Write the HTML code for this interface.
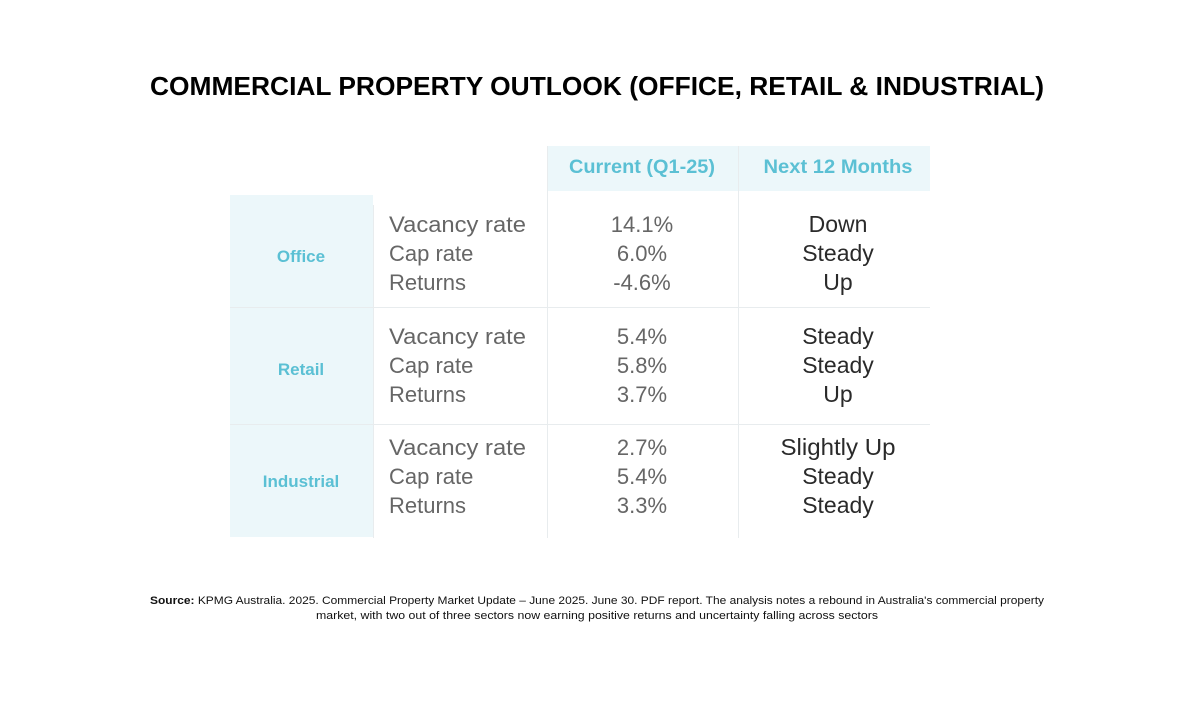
<!DOCTYPE html>
<html><head><meta charset="utf-8"><style>html,body{margin:0;padding:0;background:#fff}svg{display:block}</style></head>
<body>
<svg width="1200" height="714" viewBox="0 0 1200 714" xmlns="http://www.w3.org/2000/svg" font-family="Liberation Sans, sans-serif">
<rect width="1200" height="714" fill="#fff"/>
<text x="597" y="95" text-anchor="middle" font-size="26" font-weight="bold" fill="#000" textLength="894" lengthAdjust="spacingAndGlyphs">COMMERCIAL PROPERTY OUTLOOK (OFFICE, RETAIL &amp; INDUSTRIAL)</text>
<rect x="547" y="146" width="383" height="45" fill="#ecf7fa"/>
<rect x="230" y="195" width="143" height="342" fill="#ecf7fa"/>
<g stroke="#e8ecee" stroke-width="1">
<line x1="547.5" y1="146" x2="547.5" y2="538"/>
<line x1="738.5" y1="146" x2="738.5" y2="538"/>
<line x1="373.5" y1="205" x2="373.5" y2="538"/>
<line x1="230" y1="307.5" x2="930" y2="307.5"/>
<line x1="230" y1="424.5" x2="930" y2="424.5"/>
</g>
<g font-weight="bold" font-size="19" fill="#5bc0d4" text-anchor="middle">
<text x="642" y="173" textLength="146" lengthAdjust="spacingAndGlyphs">Current (Q1-25)</text>
<text x="838" y="173" textLength="149" lengthAdjust="spacingAndGlyphs">Next 12 Months</text>
<text x="301" y="262" font-size="17">Office</text>
<text x="301" y="375" font-size="17">Retail</text>
<text x="301" y="487" font-size="17">Industrial</text>
</g>
<g font-size="22" fill="#666">
<text x="389" y="232" textLength="137" lengthAdjust="spacingAndGlyphs">Vacancy rate</text>
<text x="389" y="261">Cap rate</text>
<text x="389" y="290">Returns</text>
<text x="389" y="344" textLength="137" lengthAdjust="spacingAndGlyphs">Vacancy rate</text>
<text x="389" y="373">Cap rate</text>
<text x="389" y="402">Returns</text>
<text x="389" y="455" textLength="137" lengthAdjust="spacingAndGlyphs">Vacancy rate</text>
<text x="389" y="484">Cap rate</text>
<text x="389" y="513">Returns</text>
</g>
<g font-size="22" fill="#666" text-anchor="middle">
<text x="642" y="232">14.1%</text>
<text x="642" y="261">6.0%</text>
<text x="642" y="290">-4.6%</text>
<text x="642" y="344">5.4%</text>
<text x="642" y="373">5.8%</text>
<text x="642" y="402">3.7%</text>
<text x="642" y="455">2.7%</text>
<text x="642" y="484">5.4%</text>
<text x="642" y="513">3.3%</text>
</g>
<g font-size="23" fill="#2a2a2a" text-anchor="middle">
<text x="838" y="232">Down</text>
<text x="838" y="261">Steady</text>
<text x="838" y="290">Up</text>
<text x="838" y="344">Steady</text>
<text x="838" y="373">Steady</text>
<text x="838" y="402">Up</text>
<text x="838" y="455" textLength="115" lengthAdjust="spacingAndGlyphs">Slightly Up</text>
<text x="838" y="484">Steady</text>
<text x="838" y="513">Steady</text>
</g>
<g font-size="11" fill="#111">
<text x="150" y="604" textLength="894" lengthAdjust="spacingAndGlyphs"><tspan font-weight="bold">Source:</tspan>  KPMG Australia. 2025. Commercial Property Market Update – June 2025. June 30. PDF report. The analysis notes a rebound in Australia's commercial property</text>
<text x="597" y="619" text-anchor="middle" textLength="562" lengthAdjust="spacingAndGlyphs">market, with two out of three sectors now earning positive returns and uncertainty falling across sectors</text>
</g>
</svg>
</body></html>
